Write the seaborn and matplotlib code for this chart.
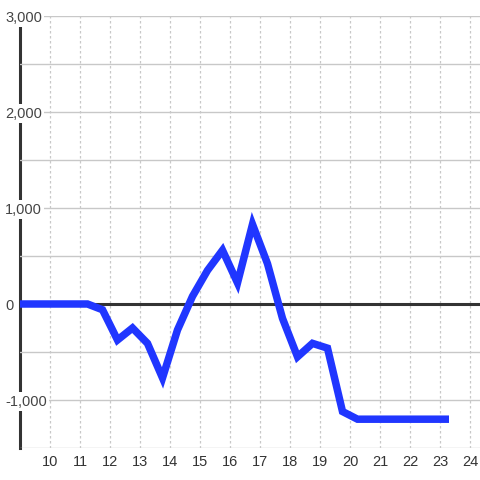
import matplotlib
matplotlib.use("Agg")
import matplotlib.pyplot as plt
import seaborn as sns
import pandas as pd

hours = [8.75, 9.25, 9.75, 10.25, 10.75, 11.25, 11.75, 12.25, 12.75, 13.25,
         13.75, 14.25, 14.75, 15.25, 15.75, 16.25, 16.75, 17.25, 17.75, 18.25,
         18.75, 19.25, 19.75, 20.25, 20.75, 21.25, 21.75, 22.25, 22.75, 23.3]
values = [0, 0, 0, 0, 0, 0, -60, -375, -250, -410,
          -770, -270, 80, 350, 560, 220, 830, 420, -150, -550,
          -410, -460, -1120, -1200, -1200, -1200, -1200, -1200, -1200, -1200]
x_ticks = [10, 11, 12, 13, 14, 15, 16, 17, 18, 19, 20, 21, 22, 23, 24]
y_ticks = [-1000, 0, 1000, 2000, 3000]
y_tick_labels = ["-1,000", "0", "1,000", "2,000", "3,000"]
y_minor = [-1500, -500, 500, 1500, 2500]

sns.set_style("white")
plt.rcParams['font.family'] = ['Liberation Sans', 'DejaVu Sans']

df = pd.DataFrame({"hour": hours, "value": values})

fig = plt.figure(figsize=(4.8, 4.8), dpi=100)
ax = fig.add_axes([20/480, 32/480, 460/480, 432/480])

sns.lineplot(data=df, x="hour", y="value", ax=ax, color="#2036ff",
             linewidth=5.4, zorder=6, solid_capstyle="butt", solid_joinstyle="miter")

ax.set_xlim(9.0, 9.0 + 460/30)
ax.set_ylim(-1500, 3000)
ax.set_xticks(x_ticks)
ax.set_xticklabels([str(t) for t in x_ticks])
ax.set_yticks(y_ticks)
ax.set_yticklabels(y_tick_labels)
ax.set_yticks(y_minor, minor=True)
ax.set_xlabel("")
ax.set_ylabel("")

ax.grid(axis="y", which="both", color="#c8c8c8", linewidth=1.0, linestyle="-")
ax.grid(axis="x", which="major", color="#c8c8c8", linewidth=0.9, linestyle=(0, (2, 2)))

ax.axhline(0, color="#333333", linewidth=2.2, zorder=4)

for s in ["top", "right", "bottom"]:
    ax.spines[s].set_visible(False)
ax.spines["left"].set_color("#333333")
ax.spines["left"].set_linewidth(2.2)
ax.spines["left"].set_zorder(2)

ax.tick_params(axis="y", which="both", length=0, pad=10.8, labelsize=10.5, labelcolor="#444444")
ax.tick_params(axis="x", which="both", length=0, pad=5, labelsize=10.5, labelcolor="#333333")
for lbl in ax.get_yticklabels():
    lbl.set_horizontalalignment("left")
    lbl.set_bbox(dict(facecolor="white", edgecolor="none", pad=1.5))
ax.yaxis.set_zorder(3)
ax.xaxis.set_zorder(1)

fig.savefig("out.png", dpi=100, facecolor="white")
